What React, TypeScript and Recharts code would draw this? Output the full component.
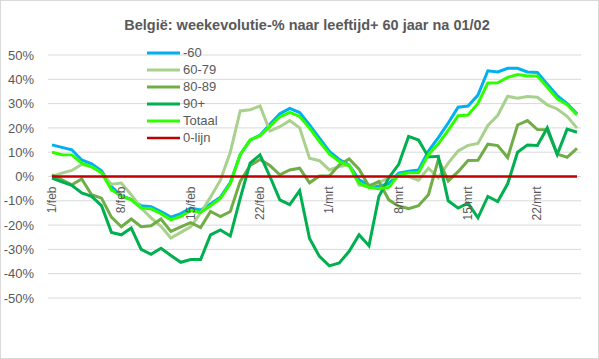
import React from 'react';
import { LineChart, Line, XAxis, YAxis, CartesianGrid } from 'recharts';

const dates: string[] = [
  '1/feb', '2/feb', '3/feb', '4/feb', '5/feb', '6/feb', '7/feb', '8/feb', '9/feb', '10/feb',
  '11/feb', '12/feb', '13/feb', '14/feb', '15/feb', '16/feb', '17/feb', '18/feb', '19/feb', '20/feb',
  '21/feb', '22/feb', '23/feb', '24/feb', '25/feb', '26/feb', '27/feb', '28/feb',
  '1/mrt', '2/mrt', '3/mrt', '4/mrt', '5/mrt', '6/mrt', '7/mrt', '8/mrt', '9/mrt', '10/mrt',
  '11/mrt', '12/mrt', '13/mrt', '14/mrt', '15/mrt', '16/mrt', '17/mrt', '18/mrt', '19/mrt', '20/mrt',
  '21/mrt', '22/mrt', '23/mrt', '24/mrt', '25/mrt', '26/mrt',
];

const minus60: number[] = [
  13, 12, 11, 6.8, 5.2, 2.3, -4.2, -8, -9.4, -12,
  -12.4, -14.4, -16.7, -15.3, -13, -13.8, -11.3, -8.5, -2.5, 9,
  15, 17, 21.5, 25.8, 28, 26.3, 21.2, 15.8, 10.3, 7,
  4.8, -1.4, -3.5, -4, -3, 1.4, 2.2, 2.7, 10.5, 16,
  22, 28.5, 29, 33.5, 43.5, 43, 44.5, 44.5, 43, 42.8,
  38, 33.3, 30, 25.8,
];

const age60to79: number[] = [
  0, 1.4, 2.5, 5, 4, 1.4, -3.2, -2.7, -7.5, -13,
  -17, -20.5, -25.3, -23, -20.7, -15, -8.5, -1.5, 10, 27,
  27.5, 29, 18.7, 20.5, 23, 20, 7.5, 6.5, 2.7, 4.1,
  4.8, -3.5, -4, -2.5, -0.5, 0, 0, -1.5, 3.4, -0.5,
  5.5, 10.5, 12.8, 13.6, 21, 25.2, 33, 32.2, 32.9, 32.6,
  29.5, 27.8, 24.8, 19.9,
];

const age80to89: number[] = [
  0.7, -1.4, -3.4, -1, -7.5, -8.9, -16.7, -20.7, -17.5, -20.7,
  -20.3, -17.5, -22.6, -20.7, -19, -21, -14.4, -16.5, -14.4, -2,
  4.5, 7, 4.5, 0.7, 2.7, 3.4, -2.6, 0.2, 0.2, 4.8,
  7.2, 3, -4, -2, -9.6, -12.2, -13.2, -12, -7.5, 7,
  -1.8, 2, 6.6, 6.7, 13.3, 12.7, 7.8, 21.2, 23, 19.3,
  19.2, 9.2, 7.9, 11.6,
];

const age90plus: number[] = [
  -0.7, -2.2, -3.6, -6.8, -8.2, -12, -23, -24, -21.2, -30,
  -32, -29.5, -32.5, -35.3, -34.2, -34.2, -24, -22, -24.5, -9,
  5.5, 8.9, 0, -9.6, -11.6, -5.8, -25.5, -32.9, -36.8, -35.6,
  -30.8, -24, -28.5, -8.2, -0.5, 5, 16.5, 15, 8, 8.3,
  -10, -13, -11, -17, -8.2, -10.3, -3, 10, 13, 12.8,
  20, 9, 19.5, 18.2,
];

const totaal: number[] = [
  10, 9, 8.9, 5.5, 4, 1.6, -5.5, -8, -9.6, -13,
  -13.3, -15.3, -17.8, -16.4, -14, -14.8, -12, -9, -3, 9,
  15, 16.8, 20.6, 24.5, 26.4, 24.7, 19.9, 14.4, 9.3, 6.2,
  4.4, -2.7, -4.5, -5, -4.5, 0.7, 1.5, 1.5, 9, 13.5,
  19, 25, 25.3, 30.1, 38.5, 38.6, 40.8, 42, 41.4, 41.4,
  36.7, 32, 29.5, 25.3,
];

const zeroLine: number[] = dates.map(() => 0);

const yTicks: number[] = [-50, -40, -30, -20, -10, 0, 10, 20, 30, 40, 50];

const title = 'België: weekevolutie-% naar leeftijd+ 60 jaar na 01/02';

const series = [
  { key: 'm60', name: '-60', values: minus60, color: '#00B0F0', width: 3 },
  { key: 'a6079', name: '60-79', values: age60to79, color: '#A9D18E', width: 3 },
  { key: 'a8089', name: '80-89', values: age80to89, color: '#70AD47', width: 3 },
  { key: 'a90', name: '90+', values: age90plus, color: '#00B050', width: 3 },
  { key: 'tot', name: 'Totaal', values: totaal, color: '#2EFF00', width: 3 },
  { key: 'zero', name: '0-lijn', values: zeroLine, color: '#C00000', width: 2.5 },
];

const data = dates.map((d, i) => {
  const row: Record<string, string | number> = { date: d };
  series.forEach((s) => {
    row[s.key] = s.values[i];
  });
  return row;
});

// layout
const W = 599;
const H = 359;
const M_TOP = 55;
const M_RIGHT = 18;
const M_BOTTOM = 31;
const X_AXIS_H = 30;
const PLOT_H = H - M_TOP - M_BOTTOM - X_AXIS_H;
const ZERO_Y = M_TOP + PLOT_H / 2;
const FONT = '"Liberation Sans", Arial, sans-serif';
const TEXT = '#595959';

const DateTick = (props: any) => {
  const { x, payload } = props;
  return (
    <text
      x={0}
      y={0}
      transform={`translate(${x},${ZERO_Y + 10}) rotate(-90)`}
      textAnchor="end"
      dominantBaseline="central"
      fill={TEXT}
      fontSize={12}
      fontFamily={FONT}
    >
      {payload.value}
    </text>
  );
};

export default function App() {
  return (
    <div style={{ position: 'absolute', left: 0, top: 0, width: W, height: H, background: '#fff' }}>
      <LineChart
        width={W}
        height={H}
        data={data}
        margin={{ top: M_TOP, right: M_RIGHT, bottom: M_BOTTOM, left: 0 }}
      >
        <CartesianGrid vertical={false} stroke="#D9D9D9" strokeWidth={1} />
        <XAxis
          dataKey="date"
          interval={6}
          height={X_AXIS_H}
          axisLine={false}
          tickLine={false}
          padding={{ left: 4, right: 4 }}
          tick={<DateTick />}
        />
        <YAxis
          width={48}
          domain={[-50, 50]}
          ticks={yTicks}
          axisLine={false}
          tickLine={false}
          tickSize={0}
          tickMargin={14}
          tickFormatter={(v: number) => `${v}%`}
          tick={{ fill: TEXT, fontSize: 13, fontFamily: FONT }}
        />
        {series.map((s) => (
          <Line
            key={s.key}
            type="linear"
            dataKey={s.key}
            name={s.name}
            stroke={s.color}
            strokeWidth={s.width}
            dot={false}
            activeDot={false}
            isAnimationActive={false}
          />
        ))}
      </LineChart>
      <div
        style={{
          position: 'absolute',
          left: 0,
          top: 17,
          width: 614,
          textAlign: 'center',
          fontFamily: FONT,
          fontWeight: 'bold',
          fontSize: 14.5,
          color: TEXT,
          whiteSpace: 'nowrap',
        }}
      >
        {title}
      </div>
      <div style={{ position: 'absolute', left: 147, top: 44, fontFamily: FONT, fontSize: 13, color: TEXT }}>
        {series.map((s) => (
          <div key={s.key} style={{ height: 17, display: 'flex', alignItems: 'center' }}>
            <svg width={34} height={6} style={{ display: 'block' }}>
              <line x1={0} y1={3} x2={33} y2={3} stroke={s.color} strokeWidth={s.width} />
            </svg>
            <span style={{ marginLeft: 2, lineHeight: '17px' }}>{s.name}</span>
          </div>
        ))}
      </div>
      <div
        style={{
          position: 'absolute',
          left: 0,
          top: 0,
          width: W,
          height: H,
          boxSizing: 'border-box',
          border: '1px solid #D9D9D9',
          pointerEvents: 'none',
        }}
      />
    </div>
  );
}
